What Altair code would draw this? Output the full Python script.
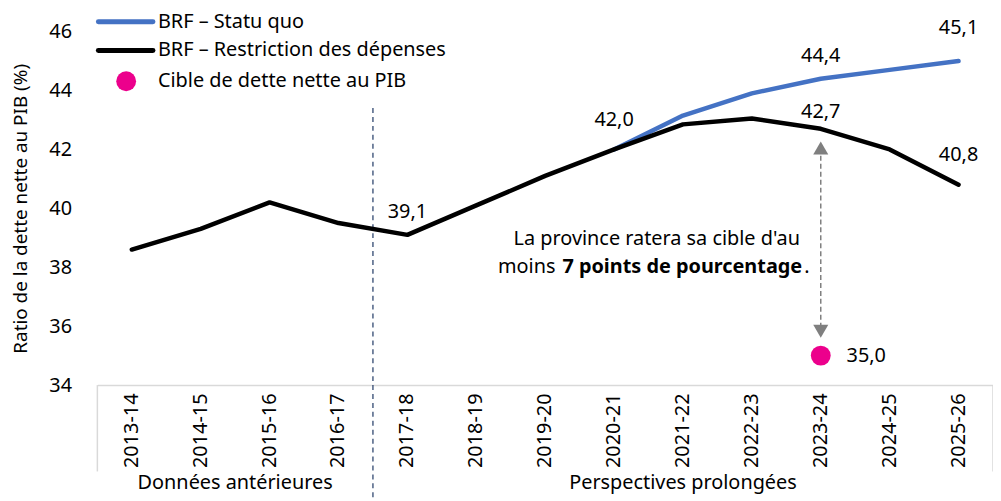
import altair as alt
import pandas as pd

FONT = "Noto Sans"
FS = 20

# ---------------- data ----------------
years = ["2013-14", "2014-15", "2015-16", "2016-17", "2017-18", "2018-19", "2019-20",
         "2020-21", "2021-22", "2022-23", "2023-24", "2024-25", "2025-26"]
restriction = [38.6, 39.3, 40.2, 39.5, 39.1, 40.1, 41.1, 42.0, 42.85, 43.05, 42.7, 42.0, 40.8]
sq_years = ["2020-21", "2021-22", "2022-23", "2023-24", "2024-25", "2025-26"]
statu_quo = [42.0, 43.15, 43.9, 44.4, 44.7, 45.0]
target_years = ["2023-24"]
target_values = [35.0]
label_years = ["2017-18", "2020-21", "2023-24", "2023-24", "2025-26", "2025-26"]
label_values = [39.1, 42.0, 44.4, 42.7, 45.1, 40.8]
label_gap = ["mid", "far", "mid", "near", "far", "far"]
arrow_years = ["2023-24"]
arrow_top = [42.05]
arrow_bottom = [35.83]
y_ticks = [34, 36, 38, 40, 42, 44, 46]
legend_labels = ["BRF – Statu quo", "BRF – Restriction des dépenses", "Cible de dette nette au PIB"]
group_names = ["Données antérieures", "Perspectives prolongées"]
group_anchor = ["2014-15", "2021-22"]
note_line1 = "La province ratera sa cible d'au"
note_line2 = ["moins", "7 points de pourcentage", "."]

BLUE = "#4472C4"
PINK = "#EC008C"
GRAY = "#7F7F7F"
NAVY = "#1F3864"

W, H = 902, 356

def fmt(v):
    return f"{v:.1f}".replace(".", ",")

df_r = pd.DataFrame({"year": years, "value": restriction})
df_sq = pd.DataFrame({"year": sq_years, "value": statu_quo})
df_t = pd.DataFrame({"year": target_years, "value": target_values,
                     "label": [fmt(v) for v in target_values]})
df_l = pd.DataFrame({"year": label_years, "value": label_values,
                     "label": [fmt(v) for v in label_values], "gap": label_gap})
df_a = pd.DataFrame({"year": arrow_years, "value": arrow_top, "value2": arrow_bottom})

x_scale = alt.Scale(type="band", domain=years, paddingInner=0, paddingOuter=0)
y_scale = alt.Scale(domain=[34, 46], nice=False, zero=False)

x_axis = alt.Axis(labelAngle=270, labelFontSize=FS, labelFont=FONT, labelColor="black",
                  labelPadding=8, ticks=False, domainColor="#D9D9D9", domainWidth=1.5,
                  grid=False, title=None)
y_axis = alt.Axis(values=y_ticks, labelFontSize=FS, labelFont=FONT, labelColor="black",
                  ticks=False, domain=False, grid=False, labelPadding=26,
                  title="Ratio de la dette nette au PIB (%)", titleFontSize=19,
                  titleFont=FONT, titleFontWeight="normal", titleColor="black",
                  titlePadding=18)

def X(**kw):
    return alt.X("year:N", scale=x_scale, axis=x_axis, title=None, **kw)

def Y():
    return alt.Y("value:Q", scale=y_scale, axis=y_axis,
                 title="Ratio de la dette nette au PIB (%)")

line_sq = alt.Chart(df_sq).mark_line(color=BLUE, strokeWidth=4.5, strokeCap="round",
                                     strokeJoin="round").encode(x=X(), y=Y())
line_r = alt.Chart(df_r).mark_line(color="black", strokeWidth=4.5, strokeCap="round",
                                   strokeJoin="round").encode(x=X(), y=Y())

labels = []
for gap, dy in [("far", -30), ("mid", -23), ("near", -17)]:
    labels.append(
        alt.Chart(df_l).transform_filter(alt.datum.gap == gap)
        .mark_text(fontSize=FS, font=FONT, color="black", dy=dy)
        .encode(x=X(), y=Y(), text="label:N")
    )

arrow_line = alt.Chart(df_a).mark_rule(color=GRAY, strokeWidth=1.5, strokeDash=[5, 3]).encode(
    x=X(), y=Y(), y2="value2:Q")
arrow_up = alt.Chart(df_a).mark_point(shape="triangle-up", filled=True, size=230,
                                      color=GRAY, opacity=1).encode(x=X(), y=Y())
arrow_down = alt.Chart(df_a).mark_point(shape="triangle-down", filled=True, size=230,
                                        color=GRAY, opacity=1).encode(
    x=X(), y=alt.Y("value2:Q", scale=y_scale, axis=y_axis))

target = alt.Chart(df_t).mark_point(filled=True, size=400, color=PINK, opacity=1).encode(
    x=X(), y=Y())
target_lbl = alt.Chart(df_t).mark_text(fontSize=FS, font=FONT, color="black", align="left",
                                       dx=26).encode(x=X(), y=Y(), text="label:N")

# annotation text
df_n1 = pd.DataFrame({"year": ["2021-22"], "value": [38.96], "t": [note_line1]})
note1 = alt.Chart(df_n1).mark_text(fontSize=FS, font=FONT, color="black").encode(
    x=X(bandPosition=0.12), y=Y(), text="t:N")
df_n2a = pd.DataFrame({"year": ["2019-20"], "value": [38.02], "t": [note_line2[0]]})
note2a = alt.Chart(df_n2a).mark_text(fontSize=FS, font=FONT, color="black", align="right").encode(
    x=X(bandPosition=0.65), y=Y(), text="t:N")
df_n2b = pd.DataFrame({"year": ["2019-20"], "value": [38.02], "t": [note_line2[1]]})
note2b = alt.Chart(df_n2b).mark_text(fontSize=FS, font=FONT, color="black", align="left",
                                     fontWeight="bold").encode(
    x=X(bandPosition=0.75), y=Y(), text="t:N")
df_n2c = pd.DataFrame({"year": ["2023-24"], "value": [38.02], "t": [note_line2[2]]})
note2c = alt.Chart(df_n2c).mark_text(fontSize=FS, font=FONT, color="black", align="left").encode(
    x=X(bandPosition=0.26), y=Y(), text="t:N")

# separators
df_sep = pd.DataFrame({"year": ["2016-17"]})
sep = alt.Chart(df_sep).mark_rule(color=NAVY, strokeWidth=1.2, strokeDash=[5, 4]).encode(
    x=X(bandPosition=1), y=alt.value(77), y2=alt.value(H + 130))
df_edges = pd.DataFrame({"year": [years[0]]})
edge_left = alt.Chart(df_edges).mark_rule(color="#D9D9D9", strokeWidth=1.5).encode(
    x=X(bandPosition=0), y=alt.value(H), y2=alt.value(H + 87))
df_edge_r = pd.DataFrame({"year": [years[-1]]})
edge_right = alt.Chart(df_edge_r).mark_rule(color="#D9D9D9", strokeWidth=1.5).encode(
    x=X(bandPosition=1), y=alt.value(H), y2=alt.value(H + 87))

df_g = pd.DataFrame({"year": group_anchor, "t": group_names})
group_a = alt.Chart(df_g.iloc[[0]]).mark_text(fontSize=FS, font=FONT, color="black").encode(
    x=X(bandPosition=1), y=alt.value(H + 99), text="t:N")
group_b = alt.Chart(df_g.iloc[[1]]).mark_text(fontSize=FS, font=FONT, color="black").encode(
    x=X(bandPosition=0.5), y=alt.value(H + 99), text="t:N")

# manual legend
leg = []
df_leg = pd.DataFrame({"t": legend_labels})
leg_rows = [-10, 19, 50]
leg.append(alt.Chart(df_leg.iloc[[0]]).mark_rule(color=BLUE, strokeWidth=5, strokeCap="round").encode(
    x=alt.value(1), x2=alt.value(56), y=alt.value(leg_rows[0])))
leg.append(alt.Chart(df_leg.iloc[[1]]).mark_rule(color="black", strokeWidth=5, strokeCap="round").encode(
    x=alt.value(1), x2=alt.value(56), y=alt.value(leg_rows[1])))
leg.append(alt.Chart(df_leg.iloc[[2]]).mark_point(filled=True, size=400, color=PINK, opacity=1).encode(
    x=alt.value(29), y=alt.value(leg_rows[2])))
for i, yy in enumerate(leg_rows):
    leg.append(alt.Chart(df_leg.iloc[[i]]).mark_text(fontSize=FS, font=FONT, color="black",
                                                     align="left").encode(
        x=alt.value(61), y=alt.value(yy), text="t:N"))

chart = alt.layer(
    sep, edge_left, edge_right, line_sq, line_r, *labels, arrow_line, arrow_up, arrow_down,
    target, target_lbl, note1, note2a, note2b, note2c, group_a, group_b, *leg
).properties(
    width=W, height=H,
    autosize=alt.AutoSizeParams(type="none"),
    padding={"left": 90, "top": 22, "right": 0, "bottom": 112},
).configure_view(stroke=None).configure_text(font=FONT)

chart.save("out.html", embed_options={"renderer": "svg", "actions": False})
